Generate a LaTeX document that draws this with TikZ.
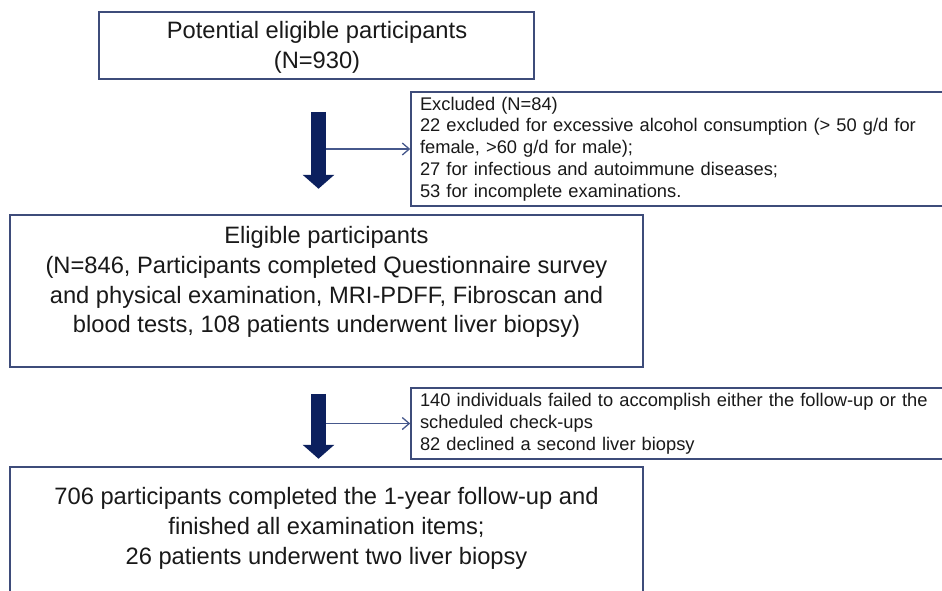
\documentclass[tikz,border=0pt]{standalone}
\usepackage{fontspec}
\setmainfont{Liberation Sans}
\usetikzlibrary{arrows.meta,calc}
\definecolor{boxline}{RGB}{62,76,122}
\definecolor{navy}{RGB}{12,32,94}
\definecolor{thinline}{RGB}{70,88,140}
\definecolor{txt}{RGB}{25,25,25}
\tikzset{
  mainbox/.style={draw=boxline, line width=1.5pt, rectangle, inner sep=0pt},
  maintext/.style={align=center, text=txt, font=\fontsize{23.7}{29.8}\selectfont, inner sep=0pt},
  sidebox/.style={draw=boxline, line width=1.5pt, rectangle, inner xsep=9pt, inner ysep=0pt,
    text width=526pt, minimum width=544pt, align=left, text=txt,
    font=\fontsize{18.3}{21.8}\selectfont},
  bigarrow/.style={draw=navy, line width=15pt, -{Triangle[width=31pt,length=14pt,fill=navy]}},
  thinarrow/.style={draw=thinline, line width=1.3pt, -{Straight Barb[length=7pt,width=12pt,line width=1.3pt]}},
}
\begin{document}
\begin{tikzpicture}[x=1pt,y=-1pt]
\clip (0,0) rectangle (942,590);
\fill[white] (0,0) rectangle (942,590);

% boxes
\node[mainbox, minimum width=435pt, minimum height=67pt] (top) at (316.5,45.5) {};
\node[maintext] (toptxt) at (317,47.5) {Potential eligible participants\\(N=930)};

\node[sidebox, minimum height=114pt] (excl) at (683,149) {Excluded (N=84)\\
22 excluded for excessive alcohol consumption (> 50 g/d for\\
female, >60 g/d for male);\\
27 for infectious and autoimmune diseases;\\
53 for incomplete examinations.};

\node[mainbox, minimum width=633pt, minimum height=152pt] (elig) at (326.5,291) {};
\node[maintext] (eligtxt) at (326.5,282) {Eligible participants\\
(N=846, Participants completed Questionnaire survey\\
and physical examination, MRI-PDFF, Fibroscan and\\
blood tests, 108 patients underwent liver biopsy)};

\node[sidebox, minimum height=71pt] (lost) at (683,423.5) {140 individuals failed to accomplish either the follow-up or the\\
scheduled check-ups\\
82 declined a second liver biopsy};

\node[mainbox, minimum width=633pt, minimum height=143pt] (final) at (326.5,538.5) {};
\node[maintext] (finaltxt) at (326.5,528.5) {706 participants completed the 1-year follow-up and\\
finished all examination items;\\
26 patients underwent two liver biopsy};

% connectors
\coordinate (a1s) at ($(top.south)+(2,32)$);
\coordinate (a1e) at ($(top.south)+(2,109)$);
\coordinate (j1) at (318.5,149);
\draw[thinarrow] (j1) -- (excl.west);
\draw[bigarrow] (a1s) -- (a1e);

\coordinate (a2s) at ($(elig.south)+(-8,26)$);
\coordinate (a2e) at ($(elig.south)+(-8,91)$);
\coordinate (j2) at (318.5,423.5);
\draw[thinarrow] (j2) -- (lost.west);
\draw[bigarrow] (a2s) -- (a2e);
\end{tikzpicture}
\end{document}
